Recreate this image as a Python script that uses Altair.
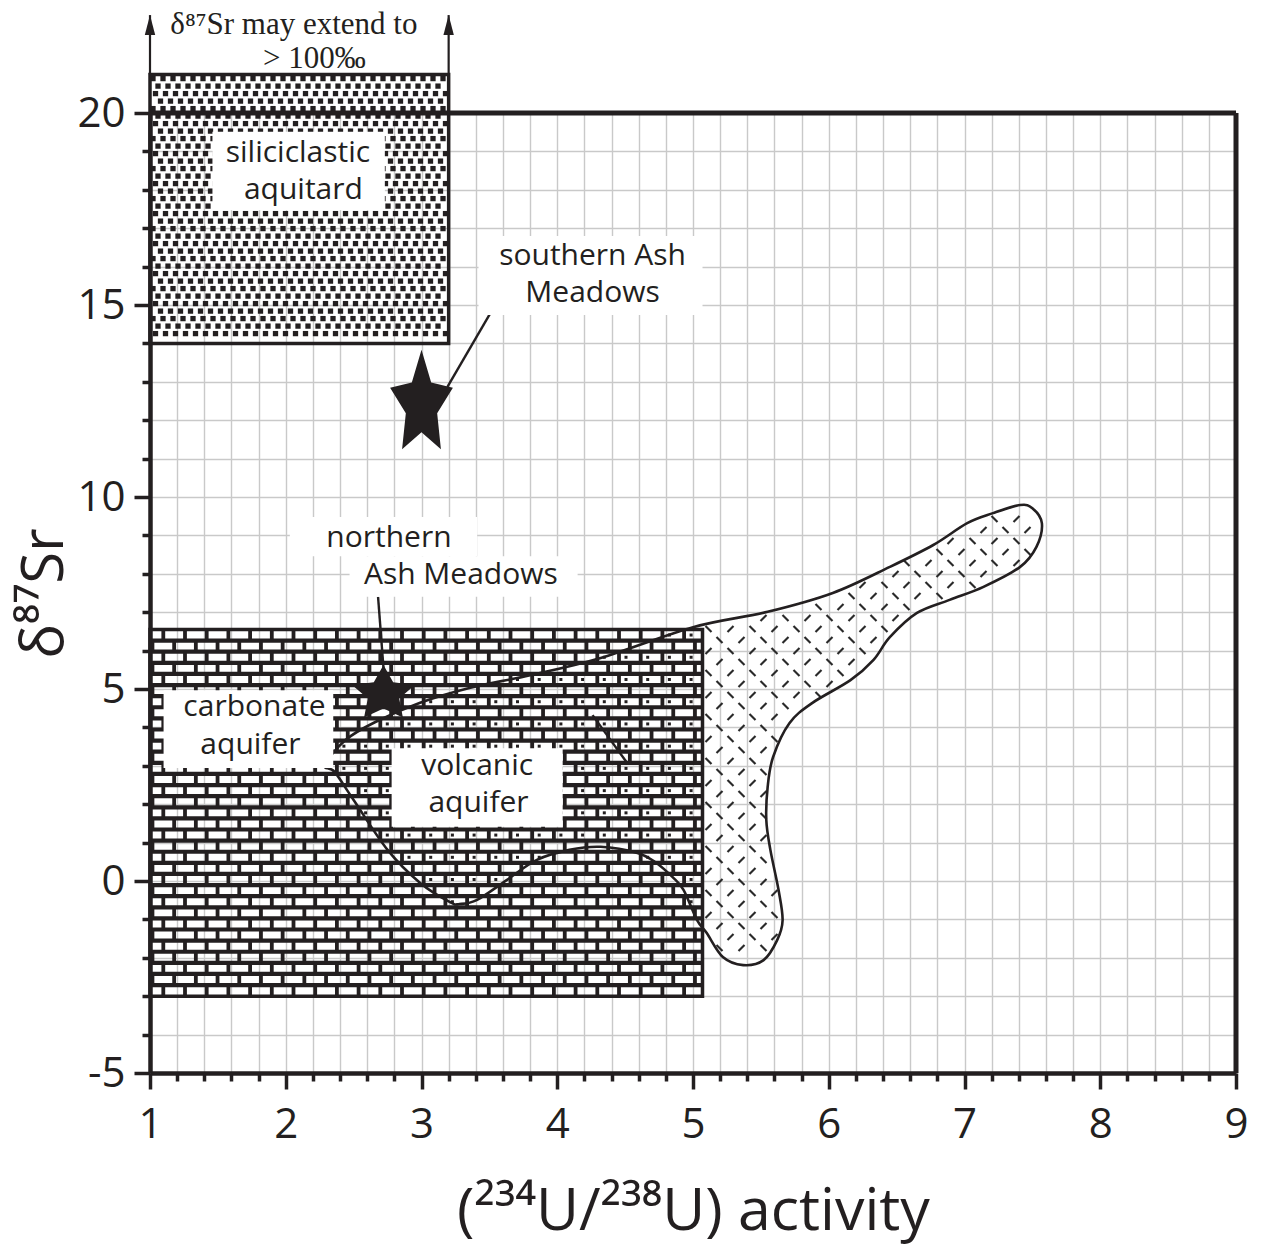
import math
import altair as alt
import pandas as pd

# ---------------------------------------------------------------- axes
X_DOMAIN = [1, 9]
Y_DOMAIN = [-5, 20]
PLOT_W, PLOT_H = 1086, 960
PX_X = (X_DOMAIN[1] - X_DOMAIN[0]) / PLOT_W   # data units per screen pixel
PX_Y = (Y_DOMAIN[1] - Y_DOMAIN[0]) / PLOT_H

INK = "#231f20"
FONT = "Open Sans"
SERIF = "Liberation Serif"

x_ticks = [round(1 + 0.2 * i, 1) for i in range(41)]
y_ticks = list(range(-5, 21))

# ---------------------------------------------------------------- data
# outline of the volcanic-aquifer field
volcanic_u = [2.29, 2.44, 2.66, 2.99, 3.36, 3.80, 4.32, 5.00, 5.55, 6.03,
              6.45, 6.77, 7.02, 7.21, 7.41, 7.50, 7.57, 7.53, 7.41, 7.14,
              6.89, 6.65, 6.45, 6.33, 6.16, 5.88, 5.71, 5.59, 5.55, 5.54,
              5.57, 5.63, 5.66, 5.62, 5.52, 5.37, 5.22, 5.10, 5.03, 4.93,
              4.85, 4.73, 4.59, 4.32, 4.09, 3.85, 3.63, 3.41, 3.28, 3.21,
              2.99, 2.75, 2.50, 2.36]
volcanic_sr = [3.02, 3.67, 4.14, 4.64, 5.03, 5.36, 5.81, 6.61, 7.01, 7.50,
               8.18, 8.75, 9.32, 9.58, 9.79, 9.71, 9.32, 8.70, 8.18, 7.66,
               7.32, 6.98, 6.35, 5.76, 5.23, 4.64, 4.11, 3.23, 2.45, 1.59,
               0.81, -0.23, -1.02, -1.54, -2.06, -2.19, -1.98, -1.35, -1.02, -0.23,
               0.10, 0.47, 0.73, 0.89, 0.81, 0.55, 0.03, -0.49, -0.60, -0.55,
               -0.05, 0.81, 2.11, 2.84]

# aquifer / aquitard fields: [u1, u2, sr1, sr2]
carbonate_box = [1.0, 5.07, -3.0, 6.55]
siliciclastic_box = [1.0, 3.2, 14.0, 21.0]

# spring samples
sample_names = ["southern Ash Meadows", "northern Ash Meadows"]
sample_u = [3.0, 2.72]
sample_sr = [12.4, 4.87]

# field and sample labels (one entry per text line)
label_text = ["siliciclastic", "aquitard", "southern Ash", "Meadows",
              "northern", "Ash Meadows", "carbonate", "aquifer",
              "volcanic", "aquifer"]
label_u = [2.09, 2.13, 4.26, 4.26, 2.76, 3.29, 1.77, 1.74, 3.41, 3.42]
label_sr = [18.96, 17.99, 16.27, 15.30, 8.93, 7.97, 4.53, 3.54, 2.99, 2.02]

# white backgrounds behind the labels: u1, u2, sr1, sr2
label_bg_u1 = [1.46, 3.42, 2.03, 2.47, 1.10, 2.78]
label_bg_u2 = [2.73, 5.07, 3.41, 4.15, 2.35, 4.04]
label_bg_sr1 = [17.47, 14.74, 8.46, 7.40, 2.94, 1.41]
label_bg_sr2 = [19.51, 16.80, 9.48, 8.46, 4.97, 3.46]

# leader lines: label -> sample, plus the short segment inside the volcanic field
leader_u1 = [3.19, 2.68, 4.26]
leader_u2 = [3.59, 2.72, 4.51]
leader_sr1 = [12.86, 7.40, 4.32]
leader_sr2 = [15.29, 5.55, 3.10]

note_text = ["δ⁸⁷Sr may extend to", "> 100‰"]
note_u = [2.06, 2.21]
note_sr = [22.29, 21.40]
arrow_u = [1.0, 3.2]
arrow_top = 22.55


# ---------------------------------------------------------------- helpers
def inside(px, py, xs, ys):
    """Ray-casting point-in-polygon test."""
    res = False
    j = len(xs) - 1
    for i in range(len(xs)):
        if (ys[i] > py) != (ys[j] > py):
            cross = (xs[j] - xs[i]) * (py - ys[i]) / (ys[j] - ys[i]) + xs[i]
            if px < cross:
                res = not res
        j = i
    return res


def star_path(sx, sy, inner=0.5):
    pts = []
    for k in range(10):
        ang = -math.pi / 2 + k * math.pi / 5
        r = 1.0 if k % 2 == 0 else inner
        pts.append((sx * r * math.cos(ang), sy * r * math.sin(ang)))
    return "M" + "L".join(f"{x:.3f},{y:.3f}" for x, y in pts) + "Z"


# ---------------------------------------------------------------- textures
# carbonate: brick mortar
cu1, cu2, cs1, cs2 = carbonate_box
n_rows = 33
rh = (cs2 - cs1) / n_rows
bw = 21.7 * PX_X
mh = 4.2 * PX_Y
mv = 3.8 * PX_X
mortar = []
for r in range(1, n_rows):
    s = cs2 - r * rh
    mortar.append({"u1": cu1, "u2": cu2, "s1": s - mh / 2, "s2": s + mh / 2})
brick_dots = []
for r in range(n_rows):
    s_hi = cs2 - r * rh
    s_lo = s_hi - rh
    off = (13.3 if r % 2 == 0 else 2.45) * PX_X
    u = cu1 + off
    while u < cu2 - 2 * PX_X:
        mortar.append({"u1": u - mv / 2, "u2": u + mv / 2, "s1": s_lo, "s2": s_hi})
        du = u + 7 * PX_X
        ds = (s_lo + s_hi) / 2
        if r % 2 == 0 and du < cu2 - 4 * PX_X and inside(du, ds, volcanic_u, volcanic_sr):
            brick_dots.append({"u": du, "s": ds})
        u += bw
mortar_df = pd.DataFrame(mortar)
brick_dot_df = pd.DataFrame(brick_dots)

# siliciclastic: small squares on a staggered lattice
su1, su2, ss1, ss2 = siliciclastic_box
stagger = [0, 5, 2.5, 7.5]
squares = []
i = 0
while True:
    s = ss2 - (4 + i * 7.5) * PX_Y
    if s < ss1 + 3 * PX_Y:
        break
    off = 3 + stagger[i % 4]
    j = 0
    while True:
        u = su1 + (off + j * 10) * PX_X
        if u > su2 - 3 * PX_X:
            break
        squares.append({"u": u, "s": s})
        j += 1
    i += 1
square_df = pd.DataFrame(squares)

# volcanic: diagonal dashes outside the carbonate field
dashes = []
gy = 0
s = 10.0
while s > -2.5:
    u = cu2 + 6 * PX_X + (gy % 2) * 11 * PX_X
    k = 0
    while u < 7.7:
        if inside(u, s, volcanic_u, volcanic_sr) and \
                inside(u, s + 4 * PX_Y, volcanic_u, volcanic_sr) and \
                inside(u, s - 4 * PX_Y, volcanic_u, volcanic_sr):
            dashes.append({"u": u, "s": s, "kind": "back" if (k + gy // 2) % 2 == 0 else "fwd"})
        u += 22 * PX_X
        k += 1
    s -= 11 * PX_Y
    gy += 1
dash_df = pd.DataFrame(dashes)

# ---------------------------------------------------------------- tables
volcanic_df = pd.DataFrame({"u": volcanic_u, "s": volcanic_sr, "o": range(len(volcanic_u))})
boxes_df = pd.DataFrame([
    {"u1": carbonate_box[0], "u2": carbonate_box[1], "s1": carbonate_box[2], "s2": carbonate_box[3]},
    {"u1": siliciclastic_box[0], "u2": siliciclastic_box[1], "s1": siliciclastic_box[2], "s2": siliciclastic_box[3]},
])
samples_df = pd.DataFrame({"name": sample_names, "u": sample_u, "s": sample_sr})
labels_df = pd.DataFrame({"text": label_text, "u": label_u, "s": label_sr})
label_bg_df = pd.DataFrame({"u1": label_bg_u1, "u2": label_bg_u2, "s1": label_bg_sr1, "s2": label_bg_sr2})
leader_df = pd.DataFrame({"u1": leader_u1, "u2": leader_u2, "s1": leader_sr1, "s2": leader_sr2})
note_df = pd.DataFrame({"text": note_text, "u": note_u, "s": note_sr})
arrow_df = pd.DataFrame({"u": arrow_u, "s1": [siliciclastic_box[3]] * 2, "s2": [arrow_top] * 2})
arrow_head_df = pd.DataFrame({"u": arrow_u, "s": [arrow_top - 20 * PX_Y] * 2})
frame_df = pd.DataFrame({
    "u1": [X_DOMAIN[0], X_DOMAIN[1]], "u2": [X_DOMAIN[1], X_DOMAIN[1]],
    "s1": [Y_DOMAIN[1], Y_DOMAIN[0]], "s2": [Y_DOMAIN[1], Y_DOMAIN[1]],
})

# ---------------------------------------------------------------- encodings
xs = alt.Scale(domain=X_DOMAIN, nice=False, zero=False)
ys = alt.Scale(domain=Y_DOMAIN, nice=False, zero=False)

x_axis = alt.Axis(
    values=x_ticks, grid=True, gridColor="#c9c9c9", gridWidth=1.4,
    domainColor=INK, domainWidth=4.5, tickColor=INK, tickWidth=3.5,
    tickSize={"condition": {"test": "abs(datum.value - round(datum.value)) < 0.01", "value": 16}, "value": 8},
    labelExpr="abs(datum.value - round(datum.value)) < 0.01 ? '' + round(datum.value) : ''",
    labelFont=FONT, labelFontSize=42, labelColor=INK, labelPadding=15,
    labelOverlap=False, labelFlush=False, labelBound=False,
    title="(²³⁴U/²³⁸U) activity", titleFont=FONT, titleFontSize=59,
    titleFontWeight="normal", titleColor=INK, titlePadding=37,
)
y_axis = alt.Axis(
    values=y_ticks, grid=True, gridColor="#c9c9c9", gridWidth=1.4,
    domainColor=INK, domainWidth=4.5, tickColor=INK, tickWidth=3.5,
    tickSize={"condition": {"test": "datum.value % 5 === 0", "value": 16}, "value": 8},
    labelExpr="datum.value % 5 === 0 ? '' + datum.value : ''",
    labelFont=FONT, labelFontSize=42, labelColor=INK, labelPadding=9,
    labelOverlap=False, labelFlush=False, labelBound=False,
    title="δ⁸⁷Sr", titleFont=FONT, titleFontSize=58,
    titleFontWeight="normal", titleColor=INK, titlePadding=2,
)


# every layer carries the same axis definition so that they merge into one
def X(field):
    return alt.X(field, type="quantitative", scale=xs, axis=x_axis)


def Y(field):
    return alt.Y(field, type="quantitative", scale=ys, axis=y_axis)


X2 = lambda f: alt.X2(f)
Y2 = lambda f: alt.Y2(f)

# ---------------------------------------------------------------- layers
sq_layer = alt.Chart(square_df).mark_square(size=28, color=INK, opacity=1).encode(
    x=X("u"), y=Y("s"))

mortar_layer = alt.Chart(mortar_df).mark_rect(color=INK).encode(
    x=X("u1"), x2=X2("u2"), y=Y("s1"), y2=Y2("s2"))

box_layer = alt.Chart(boxes_df).mark_rect(fillOpacity=0, stroke=INK, strokeWidth=3.5).encode(
    x=X("u1"), x2=X2("u2"), y=Y("s1"), y2=Y2("s2"))

dash_back = alt.Chart(dash_df).transform_filter("datum.kind === 'back'").mark_point(
    shape="M-1,-1L1,1", size=36, filled=False, stroke="#2a2a2a", strokeWidth=2.2,
    opacity=1).encode(x=X("u"), y=Y("s"))
dash_fwd = alt.Chart(dash_df).transform_filter("datum.kind === 'fwd'").mark_point(
    shape="M-1,1L1,-1", size=36, filled=False, stroke="#2a2a2a", strokeWidth=2.2,
    opacity=1).encode(x=X("u"), y=Y("s"))

dot_layer = alt.Chart(brick_dot_df).mark_square(size=9, color=INK, opacity=1).encode(
    x=X("u"), y=Y("s"))

outline_layer = alt.Chart(volcanic_df).mark_line(
    color=INK, strokeWidth=2.6, interpolate="cardinal-closed").encode(
    x=X("u"), y=Y("s"), order="o:Q")

frame_layer = alt.Chart(frame_df).mark_rule(color=INK, strokeWidth=5).encode(
    x=X("u1"), x2=X2("u2"), y=Y("s1"), y2=Y2("s2"))

arrow_layer = alt.Chart(arrow_df).mark_rule(color=INK, strokeWidth=2.2).encode(
    x=X("u"), y=Y("s1"), y2=Y2("s2"))
arrow_head_layer = alt.Chart(arrow_head_df).mark_point(
    shape="M0,-1L0.26,0L-0.26,0Z", size=1600, filled=True, color=INK, opacity=1).encode(
    x=X("u"), y=Y("s"))

leader_layer = alt.Chart(leader_df).mark_rule(color=INK, strokeWidth=2.4).encode(
    x=X("u1"), x2=X2("u2"), y=Y("s1"), y2=Y2("s2"))

star_south = alt.Chart(samples_df).transform_filter(
    "datum.name === 'southern Ash Meadows'").mark_point(
    shape=star_path(0.6, 1.0, 0.5), size=12100, filled=True, color=INK, opacity=1).encode(
    x=X("u"), y=Y("s"))
star_north = alt.Chart(samples_df).transform_filter(
    "datum.name === 'northern Ash Meadows'").mark_point(
    shape=star_path(1.0, 0.88, 0.5), size=4356, filled=True, color=INK, opacity=1).encode(
    x=X("u"), y=Y("s"))

bg_layer = alt.Chart(label_bg_df).mark_rect(color="white").encode(
    x=X("u1"), x2=X2("u2"), y=Y("s1"), y2=Y2("s2"))

label_layer = alt.Chart(labels_df).mark_text(
    font=FONT, fontSize=30, color=INK, align="center", baseline="middle").encode(
    x=X("u"), y=Y("s"), text="text:N")

note_layer = alt.Chart(note_df).mark_text(
    font=SERIF, fontSize=31, color=INK, align="center", baseline="middle").encode(
    x=X("u"), y=Y("s"), text="text:N")

chart = alt.layer(
    sq_layer, mortar_layer, box_layer, dash_back, dash_fwd, dot_layer,
    outline_layer, frame_layer, arrow_layer, arrow_head_layer, leader_layer,
    star_south, star_north, bg_layer, label_layer, note_layer,
).properties(
    width=PLOT_W, height=PLOT_H,
    padding={"left": 150, "top": 113, "right": 26, "bottom": 172},
    autosize=alt.AutoSizeParams(type="none"),
    background="white",
).configure_view(stroke=None)

chart.save("out.html", embed_options={"renderer": "svg", "actions": False})
